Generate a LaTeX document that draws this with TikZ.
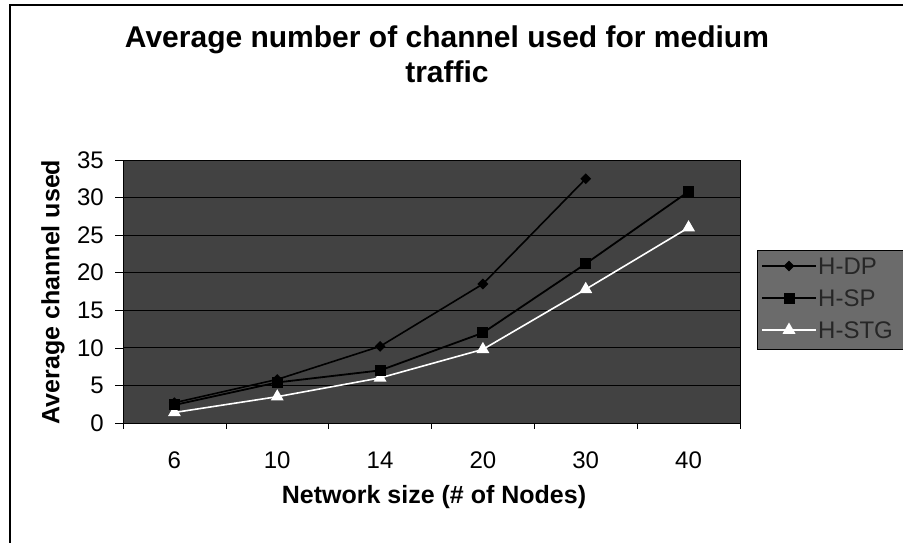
\documentclass[tikz,border=0pt]{standalone}
\usepackage{fontspec}
\setmainfont{Liberation Sans}
\usetikzlibrary{shapes.geometric,calc}

\definecolor{plotbg}{gray}{0.26}
\definecolor{legendbg}{gray}{0.42}

\tikzset{
  frameline/.style={line width=1.4pt, black},
  gridline/.style={line width=0.9pt, black},
  tickline/.style={line width=0.6pt, black},
  ticklabel/.style={font=\fontsize{24}{26}\selectfont, inner sep=0pt},
  axistitle/.style={font=\bfseries\fontsize{25}{28}\selectfont, inner sep=0pt},
  charttitle/.style={font=\bfseries\fontsize{30}{35}\selectfont, align=center, inner sep=0pt},
  legendlabel/.style={font=\fontsize{24}{26}\selectfont, inner sep=0pt, anchor=west, text=black!85},
  dpline/.style={line width=1.6pt, black},
  spline/.style={line width=1.8pt, black},
  stgline/.style={line width=1.6pt, white},
  dpmark/.style={diamond, fill=black, inner sep=0pt, minimum width=11pt, minimum height=11pt},
  spmark/.style={rectangle, fill=black, inner sep=0pt, minimum size=11pt},
  stgmark/.style={regular polygon, regular polygon sides=3, fill=white, inner sep=0pt, minimum size=15pt},
}

\begin{document}
\begin{tikzpicture}[x=1pt,y=-1pt]
  \useasboundingbox (0,0) rectangle (903,542);
  \fill[white] (0,0) rectangle (903,542);
  \clip (0,0) rectangle (903,542);

  % outer chart frame
  \draw[frameline] (10,560) -- (10,5) -- (920,5);

  % chart title
  \node[charttitle] (title) at (447,54) {Average number of channel used for medium\\traffic};

  % plot area: x from 123 to 740, y from 160 (35) to 423 (0)
  \def\pl{123}\def\pr{740}\def\pt{160}\def\pb{423}
  \def\cw{102.83}
  \def\vs{7.514}
  \fill[plotbg] (\pl,\pt) rectangle (\pr,\pb);

  % horizontal gridlines every 5 units
  \foreach \v in {5,10,...,30} {
    \draw[gridline] (\pl,{\pb-\v*\vs}) -- (\pr,{\pb-\v*\vs});
  }
  \draw[tickline] (\pl,\pt) rectangle (\pr,\pb);

  % value axis ticks and labels
  \foreach \v in {0,5,...,35} {
    \draw[tickline] (\pl-8,{\pb-\v*\vs}) -- (\pl,{\pb-\v*\vs});
    \node[ticklabel, anchor=east] (y\v) at (104,{\pb-\v*\vs}) {\v};
  }

  % category axis ticks and labels
  \foreach \i in {0,...,6} {
    \draw[tickline] ({\pl+\i*\cw},\pb) -- ({\pl+\i*\cw},\pb+6);
  }
  \foreach \lab [count=\i] in {6,10,14,20,30,40} {
    \node[ticklabel] (x\i) at ({\pl+(\i-0.5)*\cw},460) {\lab};
  }

  % axis titles
  \node[axistitle] (xtitle) at (434,497) {Network size (\# of Nodes)};
  \node[axistitle, rotate=90] (ytitle) at (53,292) {Average channel used};

  % data points
  \foreach \v [count=\i] in {2.7,5.8,10.2,18.5,32.5} {
    \coordinate (dp\i) at ({\pl+(\i-0.5)*\cw},{\pb-\v*\vs});
  }
  \foreach \v [count=\i] in {2.4,5.4,7.0,12.0,21.2,30.8} {
    \coordinate (sp\i) at ({\pl+(\i-0.5)*\cw},{\pb-\v*\vs});
  }
  \foreach \v [count=\i] in {1.4,3.5,6.0,9.8,17.8,26.0} {
    \coordinate (stg\i) at ({\pl+(\i-0.5)*\cw},{\pb-\v*\vs});
  }

  % series lines
  \draw[stgline] (stg1) -- (stg2) -- (stg3) -- (stg4) -- (stg5) -- (stg6);
  \draw[spline] (sp1) -- (sp2) -- (sp3) -- (sp4) -- (sp5) -- (sp6);
  \draw[dpline] (dp1) -- (dp2) -- (dp3) -- (dp4) -- (dp5);

  % series markers
  \foreach \i in {1,...,6} { \node[stgmark] (stgm\i) at (stg\i) {}; }
  \foreach \i in {1,...,6} { \node[spmark] (spm\i) at (sp\i) {}; }
  \foreach \i in {1,...,5} { \node[dpmark] (dpm\i) at (dp\i) {}; }

  % legend
  \draw[tickline, fill=legendbg] (757,250) rectangle (920,349);
  \coordinate (la1) at (762,266); \coordinate (lb1) at (816,266);
  \coordinate (la2) at (762,298); \coordinate (lb2) at (816,298);
  \coordinate (la3) at (762,330); \coordinate (lb3) at (816,330);
  \draw[dpline] (la1) -- (lb1);
  \draw[spline] (la2) -- (lb2);
  \draw[stgline] (la3) -- (lb3);
  \node[dpmark] (ldm) at ($(la1)!0.5!(lb1)$) {};
  \node[spmark] (lsm) at ($(la2)!0.5!(lb2)$) {};
  \node[stgmark] (ltm) at ($(la3)!0.5!(lb3)$) {};
  \node[legendlabel] (l1) at (818,266) {H-DP};
  \node[legendlabel] (l2) at (818,298) {H-SP};
  \node[legendlabel] (l3) at (818,330) {H-STG};
\end{tikzpicture}
\end{document}
